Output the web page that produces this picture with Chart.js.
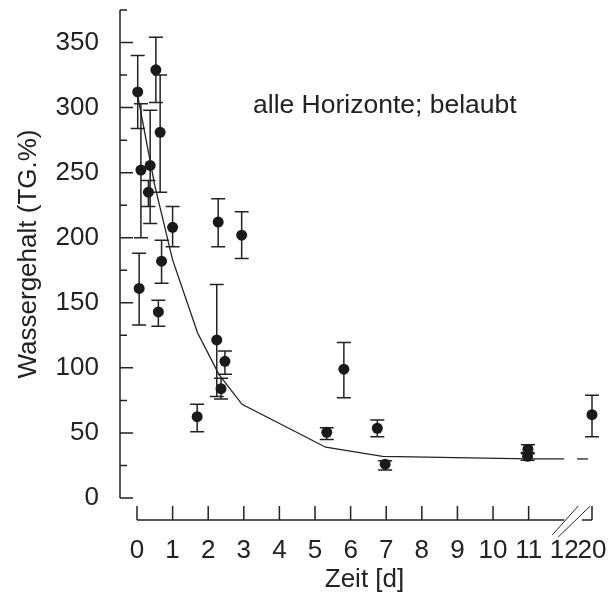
<!DOCTYPE html>
<html>
<head>
<meta charset="utf-8">
<script src="https://cdn.jsdelivr.net/npm/chart.js@4/dist/chart.umd.min.js"></script>
<style>
  body { margin: 0; background: #fff; }
</style>
</head>
<body>
<canvas id="c" width="610" height="595"></canvas>
<script>
// Messwerte (Tage, Wassergehalt, Fehlerbalken unten/oben)
const days    = [0.02, 0.11, 0.32, 0.37, 0.53, 0.65, 0.06, 0.60, 0.69, 1.0, 1.69, 2.28, 2.24, 2.36, 2.47, 2.94, 5.33, 5.81, 6.75, 6.97, 10.98, 10.97, 20];
const values  = [312, 252, 235, 255.6, 329, 281, 161, 143, 182, 208, 62.5, 212, 121.5, 84, 105, 202, 50.5, 99, 53.6, 26, 37.5, 32, 64];
const errLow  = [284, 200, 224, 211, 304, 235, 133, 132, 165, 193, 51, 193, 78, 76, 95, 184, 45, 77, 47, 21.5, 34, 29, 47];
const errHigh = [340, 303, 244, 298, 354, 325, 188, 152, 198, 224, 72, 230, 164, 92, 113, 220, 54, 119.5, 60, 28.7, 41, 35, 79];

// Ausgleichskurve
const fitDays   = [0, 0.5, 1, 1.7, 2.3, 2.95, 5.3, 6.9, 11, 12];
const fitValues = [312, 240, 183, 127, 95, 72, 39, 32, 30, 30];
const fitDays2   = [18.5, 19.6];
const fitValues2 = [30, 30];

const xTicks = [0, 1, 2, 3, 4, 5, 6, 7, 8, 9, 10, 11, 12, 20];
const yTicks = [0, 50, 100, 150, 200, 250, 300, 350];

// Achsenbruch nach 12 Tagen
const toAxis = d => d <= 12 ? d : 12.78 + (d - 20) * 0.28;

const ink = '#222';
const font = { family: "'Liberation Sans', Arial, sans-serif", size: 26 };

const pts = days.map((d, i) => ({ x: toAxis(d), y: values[i] }));
const fit = fitDays.map((d, i) => ({ x: toAxis(d), y: fitValues[i] }));
const fit2 = fitDays2.map((d, i) => ({ x: toAxis(d), y: fitValues2[i] }));

const noPad = s => { s.paddingTop = 0; s.paddingBottom = 0; s.paddingLeft = 0; s.paddingRight = 0; };

const axesPlugin = {
  id: 'axesAndBars',
  beforeDatasetsDraw(chart) {
    const { ctx, scales: { x, y } } = chart;
    ctx.save();
    ctx.strokeStyle = ink;
    ctx.lineWidth = 1.5;

    // y-Achse
    const ax = 120;
    ctx.beginPath();
    ctx.moveTo(ax, y.getPixelForValue(375));
    ctx.lineTo(ax, y.getPixelForValue(0));
    for (let v = 0; v <= 375; v += 25) {
      const py = y.getPixelForValue(v);
      ctx.moveTo(ax, py);
      ctx.lineTo(ax + (v % 50 === 0 ? 13 : 7), py);
    }
    ctx.stroke();

    // x-Achse mit Bruch
    const ay = 520;
    const x0 = x.getPixelForValue(0), x12 = x.getPixelForValue(12), x20 = x.getPixelForValue(toAxis(20));
    ctx.beginPath();
    ctx.moveTo(x0, ay); ctx.lineTo(x12, ay);
    ctx.moveTo(x20 - 10, ay); ctx.lineTo(x20, ay);
    for (let d = 0; d <= 11; d++) {
      const px = x.getPixelForValue(d);
      ctx.moveTo(px, ay); ctx.lineTo(px, ay - 14);
    }
    ctx.moveTo(x20, ay); ctx.lineTo(x20, ay - 14);
    ctx.stroke();
    ctx.lineWidth = 1;
    ctx.beginPath();
    ctx.moveTo(x12 - 12, ay + 15); ctx.lineTo(x12 + 14, ay - 14);
    ctx.moveTo(x12 - 6, ay + 17); ctx.lineTo(x12 + 26, ay - 14);
    ctx.stroke();

    // Fehlerbalken
    ctx.lineWidth = 1.5;
    ctx.beginPath();
    days.forEach((d, i) => {
      const px = x.getPixelForValue(toAxis(d));
      const lo = y.getPixelForValue(errLow[i]), hi = y.getPixelForValue(errHigh[i]);
      ctx.moveTo(px, lo); ctx.lineTo(px, hi);
      ctx.moveTo(px - 7, lo); ctx.lineTo(px + 7, lo);
      ctx.moveTo(px - 7, hi); ctx.lineTo(px + 7, hi);
    });
    ctx.stroke();
    ctx.restore();
  },
  afterDraw(chart) {
    const { ctx } = chart;
    ctx.save();
    ctx.fillStyle = ink;
    ctx.font = "26.5px 'Liberation Sans', Arial, sans-serif";
    ctx.textBaseline = 'alphabetic';
    ctx.fillText('alle Horizonte; belaubt', 253, 113);
    ctx.restore();
  }
};

new Chart(document.getElementById('c'), {
  type: 'scatter',
  data: {
    datasets: [
      { data: fit, showLine: true, borderColor: ink, borderWidth: 1.3, pointRadius: 0, clip: false },
      { data: fit2, showLine: true, borderColor: ink, borderWidth: 1.3, pointRadius: 0, clip: false },
      { data: pts, pointRadius: 5.5, pointBackgroundColor: '#1a1a1a', pointBorderWidth: 0, clip: false }
    ]
  },
  options: {
    responsive: false,
    animation: false,
    layout: { padding: { top: 10, right: 18, left: 0, bottom: 0 } },
    plugins: { legend: { display: false }, tooltip: { enabled: false } },
    scales: {
      x: {
        type: 'linear', min: 0, max: 12.78,
        grid: { display: false }, border: { display: false },
        afterBuildTicks: s => { s.ticks = xTicks.map(d => ({ value: toAxis(d) })); },
        afterFit: s => { s.height = 97; noPad(s); },
        ticks: {
          autoSkip: false, maxRotation: 0, padding: 29, color: ink, font,
          callback: v => v > 12.5 ? '20' : String(v)
        },
        title: { display: true, text: 'Zeit [d]', color: ink, font, padding: { bottom: 0, top: 0 } }
      },
      y: {
        type: 'linear', min: 0, max: 375,
        grid: { display: false }, border: { display: false },
        afterBuildTicks: s => { s.ticks = yTicks.map(v => ({ value: v })); },
        afterFit: s => { s.width = 137; noPad(s); },
        ticks: { padding: 30, color: ink, font },
        title: { display: true, text: 'Wassergehalt (TG.%)', color: ink, font, padding: { top: 13, bottom: 0 } }
      }
    }
  },
  plugins: [axesPlugin]
});
</script>
</body>
</html>
